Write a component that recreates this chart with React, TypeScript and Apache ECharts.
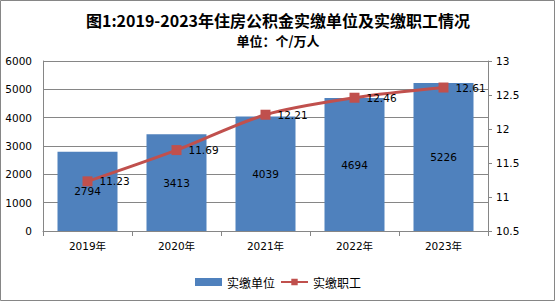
import React, { useEffect, useRef } from "react";
import * as echarts from "echarts";

const categories = ["2019年", "2020年", "2021年", "2022年", "2023年"];
const unitValues = [2794, 3413, 4039, 4694, 5226];
const workerValues = [11.23, 11.69, 12.21, 12.46, 12.61];
const seriesNames = ["实缴单位", "实缴职工"];
const titleText = "图1:2019-2023年住房公积金实缴单位及实缴职工情况";
const subText = "单位：个/万人";

const FONT = "'DejaVu Sans', 'Noto Sans CJK SC', sans-serif";
const CJK = "'Noto Sans CJK SC', 'DejaVu Sans', sans-serif";

export default function App() {
  const ref = useRef<HTMLDivElement>(null);
  useEffect(() => {
    document.body.style.margin = "0";
    const chart = echarts.init(ref.current!, null, { renderer: "svg" });
    chart.setOption({
      animation: false,
      backgroundColor: "#ffffff",
      textStyle: { fontFamily: FONT },
      graphic: [
        {
          type: "rect",
          shape: { x: 0.5, y: 0.5, width: 554, height: 300 },
          style: { fill: "none", stroke: "#868686", lineWidth: 1 },
          silent: true,
          z: -1,
        },
      ],
      title: [
        {
          text: titleText,
          left: "center",
          top: 11,
          padding: 0,
          textStyle: { fontFamily: CJK, fontSize: 16, fontWeight: "bold", color: "#000", lineHeight: 18 },
        },
        {
          text: subText,
          left: "center",
          top: 33,
          padding: 0,
          textStyle: { fontFamily: CJK, fontSize: 13, fontWeight: "bold", color: "#000", lineHeight: 14 },
        },
      ],
      legend: {
        bottom: 14,
        left: "center",
        itemWidth: 27,
        itemHeight: 8,
        itemGap: 5,
        padding: 0,
        textStyle: { fontFamily: CJK, fontSize: 12, color: "#000" },
        data: [
          { name: seriesNames[0], icon: "rect" },
          { name: seriesNames[1] },
        ],
      },
      grid: { left: 43, right: 68, top: 61, bottom: 71 },
      xAxis: {
        type: "category",
        data: categories,
        boundaryGap: true,
        axisLine: { lineStyle: { color: "#868686" } },
        axisTick: { show: true, length: 5, lineStyle: { color: "#868686" } },
        axisLabel: { color: "#000", fontSize: 10.5, margin: 10, fontFamily: FONT },
      },
      yAxis: [
        {
          type: "value",
          min: 0,
          max: 6000,
          interval: 1000,
          axisLine: { show: true, lineStyle: { color: "#868686" } },
          axisTick: { show: false },
          axisLabel: { color: "#000", fontSize: 10.5, margin: 11, formatter: (v: number) => String(v) },
          splitLine: { show: true, lineStyle: { color: "#868686" } },
        },
        {
          type: "value",
          min: 10.5,
          max: 13,
          interval: 0.5,
          position: "right",
          axisLine: { show: true, lineStyle: { color: "#868686" } },
          axisTick: { show: true, length: 4, lineStyle: { color: "#868686" } },
          axisLabel: { color: "#000", fontSize: 10.5, margin: 8, formatter: (v: number) => String(v) },
          splitLine: { show: false },
        },
      ],
      series: [
        {
          name: seriesNames[0],
          type: "bar",
          data: unitValues,
          barWidth: 60,
          itemStyle: { color: "#4F81BD" },
          label: {
            show: true,
            position: "inside",
            color: "#000",
            fontSize: 10.5,
          },
        },
        {
          name: seriesNames[1],
          type: "line",
          yAxisIndex: 1,
          data: workerValues,
          smooth: 0.3,
          symbol: "rect",
          symbolSize: 10,
          lineStyle: { color: "#C0504D", width: 3 },
          itemStyle: { color: "#C0504D" },
          label: {
            show: true,
            position: "right",
            distance: 7,
            color: "#000",
            fontSize: 10.5,
          },
        },
      ],
    });
    return () => chart.dispose();
  }, []);
  return <div ref={ref} style={{ width: 556, height: 302 }} />;
}
